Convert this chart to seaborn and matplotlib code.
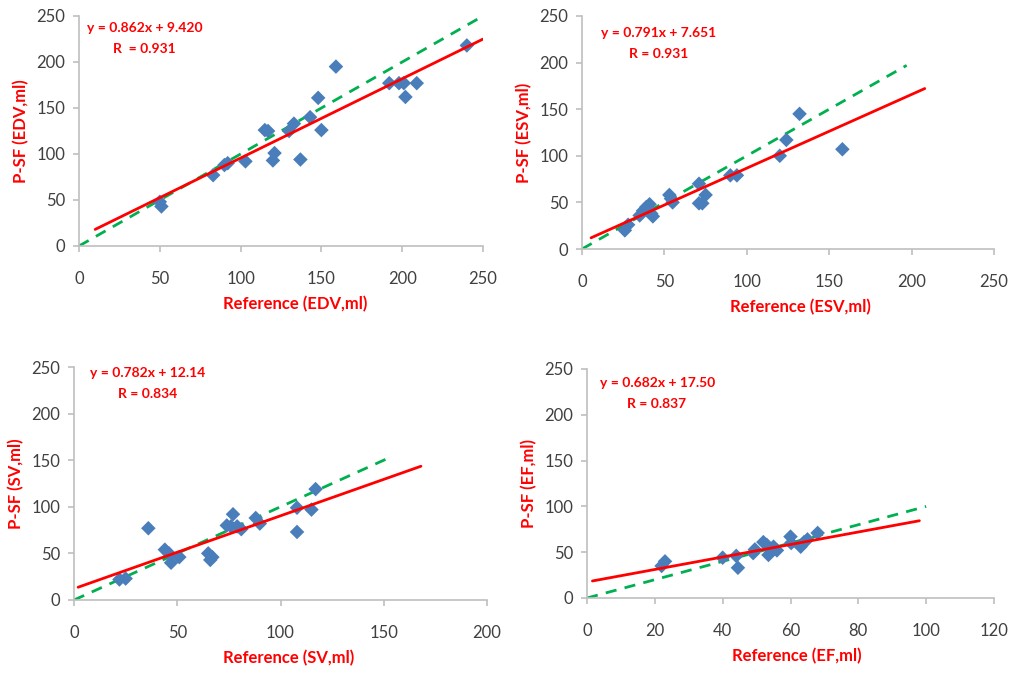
import numpy as np
import pandas as pd
import matplotlib
matplotlib.use("Agg")
import matplotlib.pyplot as plt
import seaborn as sns

sns.set_style("white")
plt.rcParams["font.family"] = ["Lato", "DejaVu Sans"]

# ---- data: reference measurement vs P-SF estimate ----
edv_ref = [50, 51, 83, 90, 92, 103, 115, 117, 120, 121, 130, 133, 137, 143, 148, 150, 159, 192, 198, 201, 202, 209, 240]
edv_psf = [48, 43, 77, 88, 90, 92, 126, 125, 93, 101, 125, 133, 94, 140, 161, 126, 195, 177, 177, 177, 162, 177, 218]

esv_ref = [26, 28, 35, 37, 39, 41, 42, 43, 53, 54, 55, 71, 71, 73, 75, 90, 94, 120, 124, 132, 158]
esv_psf = [20, 26, 36, 41, 45, 48, 38, 35, 58, 54, 50, 70, 49, 49, 58, 79, 79, 100, 117, 145, 107]

sv_ref = [22, 25, 36, 44, 46, 47, 51, 65, 66, 67, 74, 76, 77, 79, 81, 88, 90, 108, 108, 115, 117]
sv_psf = [22, 23, 77, 54, 50, 40, 46, 50, 43, 46, 80, 79, 92, 79, 76, 88, 82, 99, 73, 97, 119]

ef_ref = [22, 23, 40, 44, 44.5, 49, 49.5, 52, 53, 53.5, 55, 56, 60, 60.2, 63, 64, 65, 68]
ef_psf = [35, 40, 44, 46, 33, 49, 53, 61, 58, 47, 56, 52, 67, 60, 56, 61, 64, 71]

names = ["EDV", "ESV", "SV", "EF"]
slopes = [0.862, 0.791, 0.782, 0.682]
intercepts = [9.420, 7.651, 12.14, 17.50]
r_values = [0.931, 0.931, 0.834, 0.837]
eq_texts = ["y = 0.862x + 9.420", "y = 0.791x + 7.651", "y = 0.782x + 12.14", "y = 0.682x + 17.50"]
r_texts = ["R  = 0.931", "R = 0.931", "R = 0.834", "R = 0.837"]
fit_ranges = [(10, 250), (5.5, 208), (2, 168), (1.6, 98)]
identity_ends = [247, 197, 151, 100]
x_limits = [250, 250, 200, 120]
x_steps = [50, 50, 50, 20]

refs = [edv_ref, esv_ref, sv_ref, ef_ref]
psfs = [edv_psf, esv_psf, sv_psf, ef_psf]

# ---- layout (pixel boxes: left, top, right, bottom) ----
W, H = 1009, 673
boxes = [(79, 16, 483, 246), (582, 16, 994, 249), (74, 367, 487, 600), (587, 369, 994, 598)]
eq_pos = [((0.020, 0.948), (0.084, 0.857)),
          ((0.046, 0.926), (0.114, 0.836)),
          ((0.039, 0.976), (0.107, 0.886)),
          ((0.031, 0.939), (0.099, 0.847))]
xlab_x = [0.535, 0.529, 0.520, 0.516]

fig = plt.figure(figsize=(W / 100, H / 100), dpi=100)
red = "#ff0000"
green = "#00b050"
blue = "#4a7ebb"
spine_col = "#bfbfbf"
tick_col = "#404040"

for i in range(4):
    l, t, r, b = boxes[i]
    ax = fig.add_axes([l / W, 1 - b / H, (r - l) / W, (b - t) / H])
    df = pd.DataFrame({"ref": refs[i], "psf": psfs[i]})

    # identity line
    ident = pd.DataFrame({"x": [0, identity_ends[i]], "y": [0, identity_ends[i]]})
    sns.lineplot(data=ident, x="x", y="y", ax=ax, color=green, lw=2.0,
                 linestyle=(0, (4, 3)), zorder=2)
    # scatter
    sns.scatterplot(data=df, x="ref", y="psf", ax=ax, marker="D", s=55,
                    color=blue, edgecolor="none", zorder=3)
    # fitted regression line
    x0, x1 = fit_ranges[i]
    fit = pd.DataFrame({"x": [x0, x1],
                        "y": [slopes[i] * x0 + intercepts[i], slopes[i] * x1 + intercepts[i]]})
    sns.lineplot(data=fit, x="x", y="y", ax=ax, color=red, lw=2.0, zorder=4)

    ax.set_xlim(0, x_limits[i])
    ax.set_ylim(0, 250)
    ax.set_xticks(np.arange(0, x_limits[i] + 1, x_steps[i]))
    ax.set_yticks(np.arange(0, 251, 50))

    for side in ["top", "right"]:
        ax.spines[side].set_visible(False)
    for side in ["left", "bottom"]:
        ax.spines[side].set_color(spine_col)
        ax.spines[side].set_linewidth(1.2)

    ax.tick_params(axis="x", direction="out", length=4, width=1.2, color=spine_col,
                   pad=14, labelsize=12, labelcolor=tick_col, bottom=True)
    ax.tick_params(axis="y", direction="out", length=4, width=1.2, color=spine_col,
                   pad=6, labelsize=12, labelcolor=tick_col, left=True)

    ax.set_xlabel(f"Reference ({names[i]},ml)", color=red, fontsize=12, fontweight="bold")
    ax.set_ylabel(f"P-SF ({names[i]},ml)", color=red, fontsize=12, fontweight="bold")
    ax.xaxis.set_label_coords(xlab_x[i], -50 / (b - t))
    ax.yaxis.set_label_coords(-50 / (r - l), 0.5)

    (ex, ey), (rx, ry) = eq_pos[i]
    ax.text(ex, ey, eq_texts[i], transform=ax.transAxes, color=red, fontsize=10,
            fontweight="bold", ha="left", va="center")
    ax.text(rx, ry, r_texts[i], transform=ax.transAxes, color=red, fontsize=10,
            fontweight="bold", ha="left", va="center")

fig.savefig("out.png", dpi=100)
